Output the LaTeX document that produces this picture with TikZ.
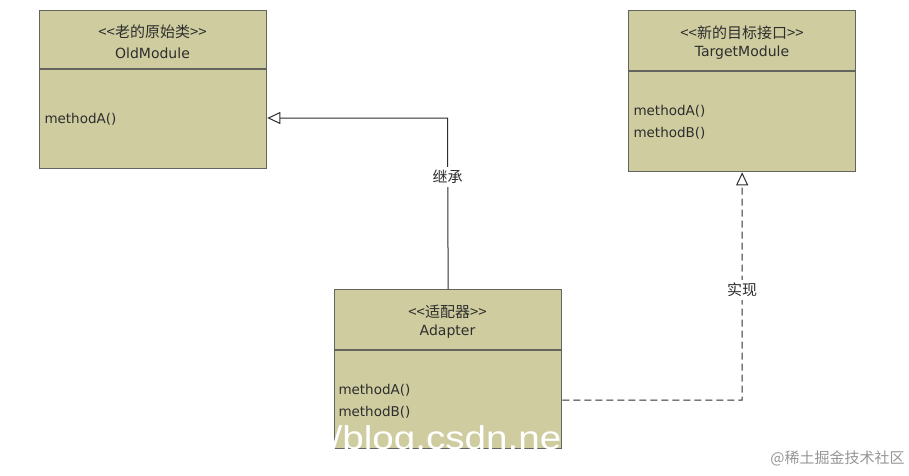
\documentclass[tikz,border=0pt]{standalone}
\usepackage{fontspec}
\setmainfont{DejaVu Sans}
\newfontfamily\cjk{Noto Sans CJK SC}
\newfontfamily\wmfont{Liberation Sans}
\usetikzlibrary{arrows.meta}
\definecolor{boxfill}{RGB}{207,205,160}
\definecolor{boxline}{RGB}{100,100,95}
\definecolor{ink}{RGB}{45,45,45}
\definecolor{wmgray}{RGB}{150,150,150}

\begin{document}
\begin{tikzpicture}[x=1pt,y=-1pt,line width=1pt,
  classbox/.style={draw=boxline,fill=boxfill,line width=1.3pt,anchor=north west,inner sep=0pt,minimum width=227pt},
  stereo/.style={text=ink,font=\cjk\fontsize{15}{17}\selectfont},
  clsname/.style={text=ink,font=\fontsize{14}{16}\selectfont},
  member/.style={text=ink,anchor=west,inner sep=0pt,font=\fontsize{13.5}{16}\selectfont},
  lbl/.style={fill=white,text=ink,font=\cjk\fontsize{15}{17}\selectfont,inner sep=3pt},
  gen/.style={draw=ink,-{Triangle[open,length=13pt,width=12pt]}},
  real/.style={gen,dash pattern=on 7pt off 4pt}]
\fill[white] (0,0) rectangle (909,475);
\useasboundingbox (0,0) rectangle (909,475);

% class boxes
\node[classbox,minimum height=158pt] (old) at (39,10) {};
\node[classbox,minimum height=161pt] (target) at (628,10) {};
\node[classbox,minimum height=159pt] (adapter) at (334,289) {};
\draw[boxline,line width=1.3pt] ([yshift=-59pt]old.north west) -- ([yshift=-59pt]old.north east);
\draw[boxline,line width=1.3pt] ([yshift=-61pt]target.north west) -- ([yshift=-61pt]target.north east);
\draw[boxline,line width=1.3pt] ([yshift=-61pt]adapter.north west) -- ([yshift=-61pt]adapter.north east);

% old class
\node[stereo] (oldst) at (152.5,32) {<<老的原始类>>};
\node[clsname] (oldnm) at (152.5,53) {OldModule};
\node[member] (oldma) at (44,119) {methodA()};

% target interface
\node[stereo] (tgtst) at (742,33) {<<新的目标接口>>};
\node[clsname] (tgtnm) at (742,53) {TargetModule};
\node[member] (tgtma) at (633,111) {methodA()};
\node[member] (tgtmb) at (633,133) {methodB()};

% adapter
\node[stereo] (adpst) at (447.5,312) {<<适配器>>};
\node[clsname] (adpnm) at (447.5,332) {Adapter};
\node[member] (adpma) at (338,390) {methodA()};
\node[member] (adpmb) at (338,412) {methodB()};

% inheritance
\coordinate (kink) at (447.5,118);
\draw[gen] (adapter.north) -- (kink) -- (old.east |- kink);
\node[lbl] (jicheng) at (447.5,177) {继承};

% realization
\coordinate (corner) at (742,400);
\draw[real] (adapter.east |- corner) -- (corner) -- (target.south);
\node[lbl] (shixian) at (742,290) {实现};

% watermarks
\node[text=white,font=\wmfont\fontsize{33}{36}\selectfont,anchor=base west,inner sep=0pt,xscale=1.17] (csdn) at (331,449) {/blog.csdn.ne};
\node[text=wmgray,font=\cjk\fontsize{15}{16}\selectfont,anchor=east,inner sep=0pt] (juejin) at (905,458) {@稀土掘金技术社区};
\end{tikzpicture}
\end{document}
